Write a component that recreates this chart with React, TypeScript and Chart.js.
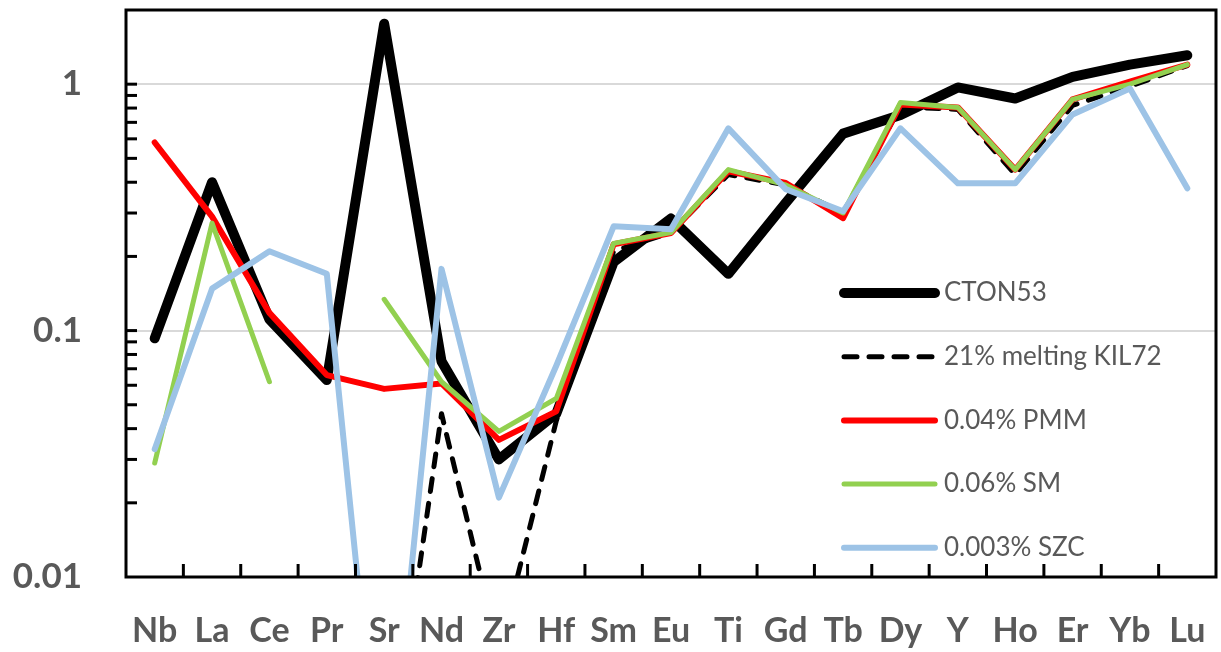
import { useEffect, useRef } from 'react';
import { Chart, registerables } from 'chart.js';

Chart.register(...registerables);

const elements = ['Nb', 'La', 'Ce', 'Pr', 'Sr', 'Nd', 'Zr', 'Hf', 'Sm', 'Eu', 'Ti', 'Gd', 'Tb', 'Dy', 'Y', 'Ho', 'Er', 'Yb', 'Lu'];

const cton53 = [0.093, 0.4, 0.111, 0.063, 1.76, 0.075, 0.03, 0.046, 0.19, 0.285, 0.17, 0.33, 0.63, 0.75, 0.97, 0.875, 1.07, 1.2, 1.31];
const kil72 = [null, null, null, null, 0.0011, 0.046, 0.005, 0.043, 0.21, 0.25, 0.43, 0.39, 0.3, 0.81, 0.79, 0.43, 0.82, 0.98, 1.19];
const pmm = [0.58, 0.29, 0.118, 0.066, 0.058, 0.061, 0.036, 0.047, 0.224, 0.249, 0.443, 0.397, 0.286, 0.827, 0.805, 0.45, 0.867, 1.025, 1.2];
const sm = [0.029, 0.273, 0.062, null, 0.134, 0.062, 0.039, 0.053, 0.226, 0.25, 0.45, 0.39, 0.3, 0.843, 0.805, 0.45, 0.867, 1.0, 1.2];
const szc = [0.033, 0.148, 0.21, 0.17, 0.00085, 0.178, 0.021, 0.072, 0.265, 0.258, 0.662, 0.375, 0.305, 0.662, 0.396, 0.396, 0.754, 0.96, 0.378];

const seriesNames = ['CTON53', '21% melting KIL72', '0.04% PMM', '0.06% SM', '0.003% SZC'];
const yTickValues = [0.01, 0.1, 1];
const yMin = 0.01;
const yMax = 2;

const TEXT = '#595959';

const framePlugin = {
  id: 'frame',
  afterDatasetsDraw(chart: any) {
    const { ctx, chartArea: a, scales } = chart;
    const xs = scales.x;
    const ys = scales.y;
    ctx.save();
    ctx.strokeStyle = '#000';
    ctx.lineCap = 'butt';
    ctx.lineWidth = 3;
    for (const d of [0.01, 0.1, 1]) {
      for (let k = 1; k <= 9; k++) {
        const v = d * k;
        if (v <= ys.min * 1.0001 || v >= ys.max) continue;
        const py = ys.getPixelForValue(v);
        ctx.beginPath();
        ctx.moveTo(a.left, py);
        ctx.lineTo(a.left + 11, py);
        ctx.stroke();
      }
    }
    for (let i = 0; i < elements.length - 1; i++) {
      const px = (xs.getPixelForValue(i) + xs.getPixelForValue(i + 1)) / 2;
      ctx.beginPath();
      ctx.moveTo(px, a.bottom);
      ctx.lineTo(px, a.bottom - 13);
      ctx.stroke();
    }
    ctx.strokeRect(a.left, a.top, a.right - a.left, a.bottom - a.top);
    ctx.restore();
  },
};

const legendPlugin = {
  id: 'insideLegend',
  afterDraw(chart: any) {
    const { ctx, chartArea: a } = chart;
    const x0 = a.right - 372;
    const x1 = a.right - 281;
    const tx = a.right - 272;
    ctx.save();
    chart.data.datasets.forEach((d: any, i: number) => {
      const yy = a.top + 283 + i * 63.7;
      ctx.beginPath();
      ctx.strokeStyle = d.borderColor;
      ctx.lineWidth = d.borderWidth;
      ctx.lineCap = 'round';
      ctx.setLineDash(d.borderDash || []);
      ctx.moveTo(x0, yy);
      ctx.lineTo(x1, yy);
      ctx.stroke();
      ctx.setLineDash([]);
      ctx.fillStyle = TEXT;
      ctx.font = '26px Lato';
      ctx.textAlign = 'left';
      ctx.textBaseline = 'middle';
      ctx.fillText(d.label, tx, yy);
    });
    ctx.restore();
  },
};

export default function App() {
  const ref = useRef<HTMLCanvasElement>(null);

  useEffect(() => {
    if (!ref.current) return;
    const common = {
      pointRadius: 0,
      pointHoverRadius: 0,
      borderJoinStyle: 'round',
      borderCapStyle: 'round',
      spanGaps: false,
      tension: 0,
      clip: 0,
      fill: false,
    };
    const chart = new Chart(ref.current, {
      type: 'line',
      data: {
        labels: elements,
        datasets: [
          { ...common, label: seriesNames[0], data: cton53, borderColor: '#000000', borderWidth: 10, order: 5 },
          { ...common, label: seriesNames[1], data: kil72, borderColor: '#000000', borderWidth: 5, borderDash: [13, 12], order: 4 },
          { ...common, label: seriesNames[2], data: pmm, borderColor: '#FF0000', borderWidth: 6, order: 3 },
          { ...common, label: seriesNames[3], data: sm, borderColor: '#92D050', borderWidth: 5, order: 2 },
          { ...common, label: seriesNames[4], data: szc, borderColor: '#9DC3E6', borderWidth: 6, order: 1 },
        ] as any,
      },
      options: {
        responsive: false,
        animation: false,
        events: [],
        layout: { padding: { top: 10, right: 5, left: 0, bottom: 0 } },
        plugins: {
          legend: { display: false },
          tooltip: { enabled: false },
          title: { display: false },
        },
        scales: {
          x: {
            type: 'category',
            offset: true,
            grid: { display: false },
            border: { display: false },
            ticks: {
              color: TEXT,
              font: { family: 'Lato', size: 34, weight: 'bold' },
              padding: 26,
              autoSkip: false,
              maxRotation: 0,
              minRotation: 0,
            },
            afterFit: (s: any) => {
              s.height = 75;
              s.paddingLeft = 0;
              s.paddingRight = 0;
            },
          },
          y: {
            type: 'logarithmic',
            min: yMin,
            max: yMax,
            afterBuildTicks: (s: any) => {
              s.ticks = yTickValues.map((v) => ({ value: v, major: true }));
            },
            grid: {
              color: (c: any) => (c.tick && c.tick.value > yMin ? '#D9D9D9' : 'rgba(0,0,0,0)'),
              lineWidth: 2,
              drawTicks: false,
            },
            border: { display: false },
            ticks: {
              color: TEXT,
              font: { family: 'Lato', size: 35, weight: 'bold' },
              padding: 44,
              autoSkip: false,
              callback: (v: any) => String(Number(v)),
            },
            afterFit: (s: any) => {
              s.width = 126;
              s.paddingTop = 0;
              s.paddingBottom = 0;
            },
          },
        },
      } as any,
      plugins: [framePlugin, legendPlugin],
    });
    return () => chart.destroy();
  }, []);

  return (
    <div style={{ position: 'absolute', left: 0, top: 0, width: 1221, height: 652, background: '#fff' }}>
      <canvas ref={ref} width={1221} height={652} style={{ display: 'block' }} />
    </div>
  );
}
